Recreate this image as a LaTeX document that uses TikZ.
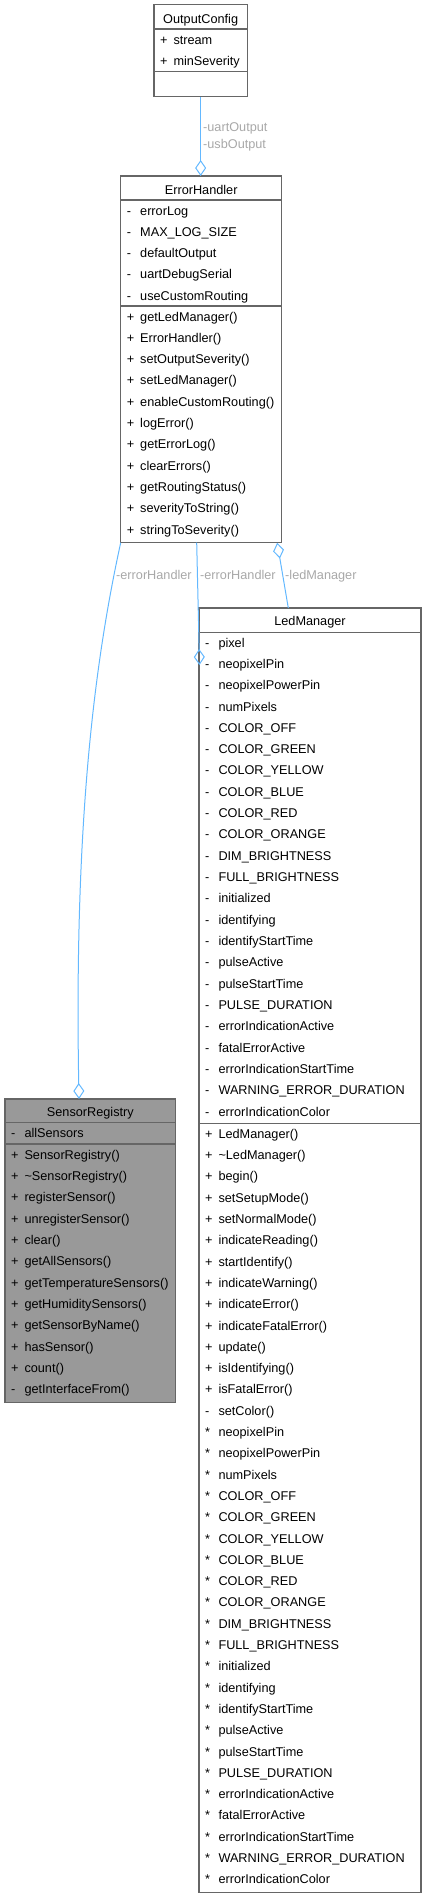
\documentclass[tikz,border=0pt]{standalone}
\usepackage{fontspec}
\setmainfont{Liberation Sans}
\usetikzlibrary{arrows.meta,positioning,calc}
\definecolor{boxline}{HTML}{666666}
\definecolor{boxhi}{HTML}{999999}
\definecolor{edgeblue}{HTML}{63B8FF}
\definecolor{edgetxt}{HTML}{A8A8A8}
\newcommand{\dxfont}{\fontsize{12.7}{15}\selectfont}

\begin{document}
\begin{tikzpicture}[
  x=1pt, y=-1pt,
  classbox/.style={
    rectangle,
    draw=boxline,
    fill=white,
    line width=1.1pt,
    inner sep=0pt,
    outer sep=0pt
  },
  clstitle/.style={anchor=base, inner sep=0pt, font=\dxfont},
  sym/.style={anchor=base west, inner sep=0pt, font=\dxfont},
  member/.style={anchor=base west, inner sep=0pt, font=\dxfont},
  divider/.style={draw=boxline, line width=1.1pt},
  assoc/.style={draw=edgeblue, line width=1pt, -{Diamond[open, length=16pt, width=11pt]}},
  rolelbl/.style={anchor=base west, inner sep=0pt, text=edgetxt, font=\dxfont}
]
\useasboundingbox (0,0) rectangle (427,1899);

% --- OutputConfig ---
\node[classbox, minimum width=93.3pt, minimum height=92pt] (outcfg) at (200.65, 50.7) {};
\node[clstitle] (outcfg-t) at (200.65, 23.3) {OutputConfig};
\draw[divider] (outcfg.west |- 0,29) -- (outcfg.east |- 0,29);
\draw[divider] (outcfg.west |- 0,71.3) -- (outcfg.east |- 0,71.3);
\foreach \s/\n [count=\k from 0] in {+/stream, +/minSeverity} {
  \pgfmathsetmacro{\y}{44.3 + \k*21.5}
  \node[sym] (oc-s\k) at (160, \y) {\s};
  \node[member] (oc-m\k) at (173.3, \y) {\n};
}

% --- ErrorHandler ---
\node[classbox, minimum width=161pt, minimum height=366.7pt] (errhdl) at (201.2, 359.35) {};
\node[clstitle] (errhdl-t) at (201.2, 194) {ErrorHandler};
\draw[divider] (errhdl.west |- 0,200) -- (errhdl.east |- 0,200);
\draw[divider] (errhdl.west |- 0,306) -- (errhdl.east |- 0,306);
\foreach \s/\n [count=\k from 0] in {-/errorLog, -/MAX\_LOG\_SIZE, -/defaultOutput,
    -/uartDebugSerial, -/useCustomRouting} {
  \pgfmathsetmacro{\y}{215 + \k*21.25}
  \node[sym] (eh-as\k) at (126.7, \y) {\s};
  \node[member] (eh-a\k) at (140, \y) {\n};
}
\foreach \s/\n [count=\k from 0] in {+/getLedManager(), +/ErrorHandler(), +/setOutputSeverity(),
    +/setLedManager(), +/enableCustomRouting(), +/logError(), +/getErrorLog(), +/clearErrors(),
    +/getRoutingStatus(), +/severityToString(), +/stringToSeverity()} {
  \pgfmathsetmacro{\y}{321 + \k*21.33}
  \node[sym] (eh-ms\k) at (126.7, \y) {\s};
  \node[member] (eh-m\k) at (140, \y) {\n};
}

% --- LedManager ---
\node[classbox, minimum width=222pt, minimum height=1284.3pt] (ledmgr) at (310, 1250.15) {};
\node[clstitle] (ledmgr-t) at (310, 625.7) {LedManager};
\draw[divider] (ledmgr.west |- 0,632.3) -- (ledmgr.east |- 0,632.3);
\draw[divider] (ledmgr.west |- 0,1123.3) -- (ledmgr.east |- 0,1123.3);
\foreach \s/\n [count=\k from 0] in {-/pixel, -/neopixelPin, -/neopixelPowerPin, -/numPixels,
    -/COLOR\_OFF, -/COLOR\_GREEN, -/COLOR\_YELLOW, -/COLOR\_BLUE, -/COLOR\_RED, -/COLOR\_ORANGE,
    -/DIM\_BRIGHTNESS, -/FULL\_BRIGHTNESS, -/initialized, -/identifying, -/identifyStartTime,
    -/pulseActive, -/pulseStartTime, -/PULSE\_DURATION, -/errorIndicationActive,
    -/fatalErrorActive, -/errorIndicationStartTime, -/WARNING\_ERROR\_DURATION,
    -/errorIndicationColor} {
  \pgfmathsetmacro{\y}{647 + \k*21.33}
  \node[sym] (lm-as\k) at (205, \y) {\s};
  \node[member] (lm-a\k) at (218.3, \y) {\n};
}
\foreach \s/\n [count=\k from 0] in {+/LedManager(), +/\textasciitilde LedManager(), +/begin(),
    +/setSetupMode(), +/setNormalMode(), +/indicateReading(), +/startIdentify(),
    +/indicateWarning(), +/indicateError(), +/indicateFatalError(), +/update(),
    +/isIdentifying(), +/isFatalError(), -/setColor(), */neopixelPin, */neopixelPowerPin,
    */numPixels, */COLOR\_OFF, */COLOR\_GREEN, */COLOR\_YELLOW, */COLOR\_BLUE, */COLOR\_RED,
    */COLOR\_ORANGE, */DIM\_BRIGHTNESS, */FULL\_BRIGHTNESS, */initialized, */identifying,
    */identifyStartTime, */pulseActive, */pulseStartTime, */PULSE\_DURATION,
    */errorIndicationActive, */fatalErrorActive, */errorIndicationStartTime,
    */WARNING\_ERROR\_DURATION, */errorIndicationColor} {
  \pgfmathsetmacro{\y}{1138.3 + \k*21.3}
  \node[sym] (lm-ms\k) at (205, \y) {\s};
  \node[member] (lm-m\k) at (218.3, \y) {\n};
}

% --- SensorRegistry (highlighted) ---
\node[classbox, fill=boxhi, minimum width=170.7pt, minimum height=303.7pt] (sensreg) at (90.35, 1250.85) {};
\node[clstitle] (sensreg-t) at (90.35, 1116) {SensorRegistry};
\draw[divider] (sensreg.west |- 0,1122.7) -- (sensreg.east |- 0,1122.7);
\draw[divider] (sensreg.west |- 0,1144) -- (sensreg.east |- 0,1144);
\node[sym] (sr-as0) at (11, 1137.6) {-};
\node[member] (sr-a0) at (24.3, 1137.6) {allSensors};
\foreach \s/\n [count=\k from 0] in {+/SensorRegistry(), +/\textasciitilde SensorRegistry(),
    +/registerSensor(), +/unregisterSensor(), +/clear(), +/getAllSensors(),
    +/getTemperatureSensors(), +/getHumiditySensors(), +/getSensorByName(), +/hasSensor(),
    +/count(), -/getInterfaceFrom()} {
  \pgfmathsetmacro{\y}{1159.3 + \k*21.3}
  \node[sym] (sr-ms\k) at (11, \y) {\s};
  \node[member] (sr-m\k) at (24.3, \y) {\n};
}

% --- associations ---
\draw[assoc] (outcfg.south) -- (outcfg.south |- errhdl.north);
\node[rolelbl] (r-uart) at (203, 131.5) {-uartOutput};
\node[rolelbl] (r-usb) at (203, 148.5) {-usbOutput};

\draw[assoc] (errhdl.south west) .. controls (95, 660) and (74, 820) .. ([xshift=74pt]sensreg.north west);
\node[rolelbl] (r-eh1) at (116, 579.5) {-errorHandler};

\draw[assoc] ([xshift=-4.5pt]errhdl.south) -- ($(ledmgr.north west)+(0.5,57)$);
\node[rolelbl] (r-eh2) at (200, 579.5) {-errorHandler};

\draw[assoc] ([xshift=-21.7pt]ledmgr.north) -- ([xshift=76pt]errhdl.south);
\node[rolelbl] (r-led) at (285, 579.5) {-ledManager};

\end{tikzpicture}
\end{document}
